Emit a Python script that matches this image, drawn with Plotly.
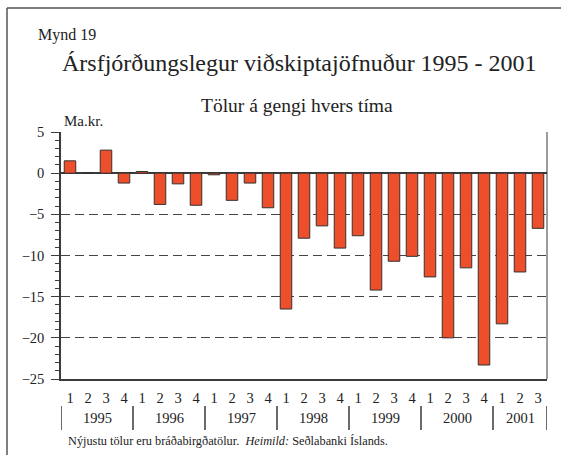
import plotly.graph_objects as go

# ---- data ----
years = [1995, 1996, 1997, 1998, 1999, 2000, 2001]
quarters_per_year = [4, 4, 4, 4, 4, 4, 3]
quarter_labels = ["1", "2", "3", "4"] * 6 + ["1", "2", "3"]
values = [1.5, 0.0, 2.8, -1.2,
          0.2, -3.8, -1.3, -3.9,
          -0.2, -3.3, -1.2, -4.2,
          -16.5, -7.9, -6.4, -9.1,
          -7.6, -14.2, -10.7, -10.1,
          -12.6, -20.0, -11.5, -23.3,
          -18.3, -12.0, -6.7]
y_ticks = [5, 0, -5, -10, -15, -20, -25]

title = "Ársfjórðungslegur viðskiptajöfnuður 1995 - 2001"
subtitle = "Tölur á gengi hvers tíma"
fig_label = "Mynd 19"
unit = "Ma.kr."
footer = "Nýjustu tölur eru bráðabirgðatölur.\u00a0\u00a0<i>Heimild:</i> Seðlabanki Íslands."

# ---- layout geometry (pixels) ----
W, H = 561, 455
L, R, T, B = 61, 14, 132, 76
PW, PH = W - L - R, H - T - B
FONT = "Liberation Serif"
INK = "#222222"
AX = "#3a3a3a"


def px_x(px):
    return (px - L) / PW


def px_y(py):
    return (H - B - py) / PH


x_idx = list(range(len(values)))

fig = go.Figure()
fig.add_trace(go.Bar(
    x=x_idx, y=values,
    marker=dict(color="#EE4E2A", line=dict(color="#333333", width=1)),
    hoverinfo="y",
))

shapes = []
annotations = []

# year separators and labels
start = 0
for yr, n in zip(years, quarters_per_year):
    shapes.append(dict(type="line", xref="x", yref="paper",
                       x0=start - 0.5, x1=start - 0.5,
                       y0=px_y(406), y1=px_y(430),
                       line=dict(color=AX, width=1.5)))
    annotations.append(dict(text=str(yr), xref="x", yref="paper",
                            x=start + (n - 1) / 2, y=px_y(418),
                            xanchor="center", yanchor="middle", showarrow=False,
                            font=dict(family=FONT, size=14.5, color=INK)))
    start += n
shapes.append(dict(type="line", xref="x", yref="paper",
                   x0=start - 0.5, x1=start - 0.5,
                   y0=px_y(406), y1=px_y(430),
                   line=dict(color=AX, width=1.5)))

# right border of plot
shapes.append(dict(type="line", xref="paper", yref="paper",
                   x0=1, x1=1, y0=0, y1=1, line=dict(color=AX, width=1)))

# outer frame (left and top visible)
shapes.append(dict(type="line", xref="paper", yref="paper",
                   x0=px_x(7), x1=px_x(7), y0=px_y(8), y1=px_y(470),
                   line=dict(color="#555555", width=1.5)))
shapes.append(dict(type="line", xref="paper", yref="paper",
                   x0=px_x(7), x1=px_x(580), y0=px_y(8), y1=px_y(8),
                   line=dict(color="#555555", width=1.5)))

annotations += [
    dict(text=fig_label, xref="paper", yref="paper", x=px_x(36), y=px_y(35),
         xanchor="left", yanchor="middle", showarrow=False,
         font=dict(family=FONT, size=16, color=INK)),
    dict(text=title, xref="paper", yref="paper", x=px_x(299), y=px_y(63),
         xanchor="center", yanchor="middle", showarrow=False,
         font=dict(family=FONT, size=24, color=INK)),
    dict(text=subtitle, xref="paper", yref="paper", x=px_x(297), y=px_y(106),
         xanchor="center", yanchor="middle", showarrow=False,
         font=dict(family=FONT, size=19.5, color=INK)),
    dict(text=unit, xref="paper", yref="paper", x=px_x(62), y=px_y(121),
         xanchor="left", yanchor="middle", showarrow=False,
         font=dict(family=FONT, size=15, color=INK)),
    dict(text=footer, xref="paper", yref="paper", x=px_x(66), y=px_y(441),
         xanchor="left", yanchor="middle", showarrow=False,
         font=dict(family=FONT, size=12.3, color=INK)),
]

fig.update_layout(
    width=W, height=H,
    margin=dict(l=L, r=R, t=T, b=B, pad=0),
    paper_bgcolor="white", plot_bgcolor="white",
    showlegend=False, bargap=0.36,
    font=dict(family=FONT, size=14.5, color=INK),
    shapes=shapes, annotations=annotations,
    xaxis=dict(range=[-0.5, len(values) - 0.5], tickmode="array",
               tickvals=x_idx, ticktext=quarter_labels,
               ticks="outside", ticklen=5, tickcolor="rgba(0,0,0,0)",
               showgrid=False, zeroline=False,
               showline=True, linecolor=AX, linewidth=1.5,
               tickfont=dict(family=FONT, size=14.5, color=INK), fixedrange=True),
    yaxis=dict(range=[-25, 5], tickmode="array", tickvals=y_ticks,
               ticks="outside", ticklen=8, tickcolor=AX, tickwidth=1,
               minor=dict(dtick=1, ticks="outside", ticklen=4, tickcolor=AX,
                          tickwidth=1, showgrid=False),
               showgrid=True, gridcolor="#444444", gridwidth=1, griddash="9px,5px",
               zeroline=True, zerolinecolor=AX, zerolinewidth=1.5,
               showline=True, linecolor=AX, linewidth=1.5,
               ticklabelstandoff=4,
               tickfont=dict(family=FONT, size=14.5, color=INK), fixedrange=True),
)

fig.write_html("out.html", config={"displayModeBar": False},
               post_script="document.body.style.margin='0';document.body.style.overflow='hidden';")
